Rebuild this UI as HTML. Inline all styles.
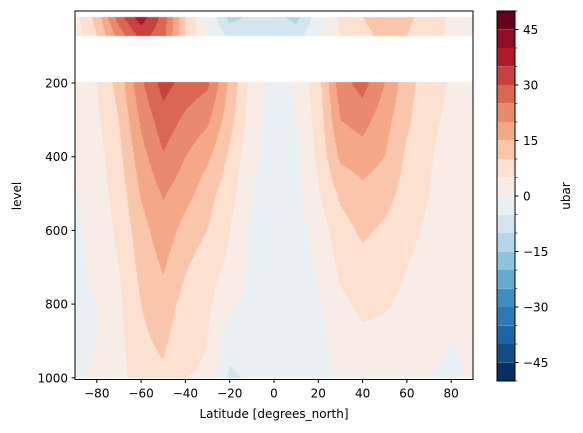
<!DOCTYPE html>
<html><head><meta charset="utf-8"><style>
body{margin:0;background:#fff;width:583px;height:433px;overflow:hidden;font-family:"DejaVu Sans","Liberation Sans",sans-serif;}
svg text{font-family:"DejaVu Sans","Liberation Sans",sans-serif;font-size:12px;fill:#000}
#cv{position:absolute;left:0;top:0}
#ov{position:absolute;left:0;top:0}
</style></head><body>
<canvas id="cv" width="583" height="433"></canvas>
<svg id="ov" width="583" height="433"></svg>
<script>
const lats=[-90,-80,-70,-60,-50,-40,-30,-20,-10,0,10,20,30,40,50,60,70,80,90];
const levels=[20,70,200,300,400,500,600,700,800,900,1000];
const u20 =[3,12,28,38,28,10,-1,-12,-9,-8,-12,-2,6,10,12,11,8,4,2];
const u70 =[2,10,22,32,27,10,0,-6,-6,-5,-7,-1,5,9,11,10,7,4,2];
const u200=[2,5,12,24,32,28,26,14,3,-2,1,8,23,27,20,12,7,4.5,2];
const u300=[1,4,10,21,28,24,21,12,2,-2,0,7,20,22,17,11,6,4,1.5];
const u400=[0.5,3,8.5,18,24.5,20,16,9,1,-2,-1,6,16,17.5,15,9,5.5,3,1.5];
const u500=[-0.5,2.5,7,15.5,20.5,17,12,7,0,-2,-1.5,4.5,11,13.5,12,8,5,2,1.5];
const u600=[-1,2,6,13,18,13,10,5,-1,-2,-2,2,8,11,9,6.5,4,2,1.5];
const u700=[-1,1,5,11.5,15.5,10.5,7,4,-1,-2,-2,0.5,6,8,7,5,3,2,1.5];
const u800=[-1,0,4,10,13,8,6,1,-1.5,-2,-2,-0.5,4,6,5.5,4,2.5,1,1];
const u900=[-1,0,3.5,9,11,6.5,5,-3,-3,-2,-2,-1,2,4,3.5,3,1.5,0,1];
const u1000=[-1,1,3,8,9,5,4.5,-6,-4,-2,-2,-1.5,0.5,2.5,2,2,0,-1,0.5];
const field=[u20,u70,u200,u300,u400,u500,u600,u700,u800,u900,u1000];
const bounds=[-50,-45,-40,-35,-30,-25,-20,-15,-10,-5,0,5,10,15,20,25,30,35,40,45,50];
const colors=['#053061','#134b87','#1f63a8','#2e78b5','#3f8ec0','#65a9cf','#8fc2dd','#b5d6e8','#d3e6f0','#e9f0f4','#f8ece7','#fce0d0','#f9c6ac','#f4a886','#e88a6e','#d96752','#c6413f','#b2182b','#8f0c25','#67001f'];
const xTicks=[-80,-60,-40,-20,0,20,40,60,80];
const yTicks=[200,400,600,800,1000];
const cTicks=[-45,-30,-15,0,15,30,45];

const X0=75,X1=473,Y0=11,Y1=379.5;
const xs=lat=>274+lat*2.215;
const ys=p=>83+(p-200)*0.3685;
const cys=v=>196-v*3.7;

function colorFor(v){let i=Math.floor((v+50)/5);i=Math.max(0,Math.min(19,i));return colors[i];}
function sample(lat,y){
  const lys=levels.map(ys);
  if(y<lys[0]||y>lys[lys.length-1])return null;
  if(y>lys[1]+0.5&&y<lys[2]-0.5)return null;
  let j=0;while(j<levels.length-2&&y>lys[j+1])j++;
  const ty=(y-lys[j])/(lys[j+1]-lys[j]);
  let i=Math.floor((lat+90)/10);i=Math.max(0,Math.min(lats.length-2,i));
  const tx=(lat-lats[i])/10;
  const a=field[j][i],b=field[j][i+1],c=field[j+1][i],d=field[j+1][i+1];
  return (a*(1-tx)+b*tx)*(1-ty)+(c*(1-tx)+d*tx)*ty;
}
const ctx=document.getElementById('cv').getContext('2d');
for(let px=X0;px<X1;px++){
  const lat=(px+0.5-274)/2.215;
  for(let py=Math.floor(Y0);py<Y1;py++){
    const v=sample(lat,py+0.5);
    if(v===null)continue;
    ctx.fillStyle=colorFor(v);ctx.fillRect(px,py,1,1);
  }
}
for(let k=0;k<colors.length;k++){
  const yTop=cys(bounds[k+1]),yBot=cys(bounds[k]);
  ctx.fillStyle=colors[k];ctx.fillRect(497,yTop,18,yBot-yTop);
}
const NS='http://www.w3.org/2000/svg';
const svg=document.getElementById('ov');
function el(t,a,p){const e=document.createElementNS(NS,t);for(const k in a)e.setAttribute(k,a[k]);(p||svg).appendChild(e);return e;}
const frame=el('rect',{x:X0,y:Y0,width:X1-X0,height:Y1-Y0,fill:'none',stroke:'#000','stroke-width':1});


xTicks.forEach(t=>{
  const x=xs(t);
  const l=el('line',{x1:x,x2:x,y1:Y1,y2:Y1+3.5,stroke:'#000'});
  
  
  const tx=el('text',{x:x,y:Y1+18,'text-anchor':'middle'});tx.textContent=(t<0?'\u2212'+(-t):t);
  
  
});
yTicks.forEach(t=>{
  const y=ys(t);
  const l=el('line',{x1:X0-3.5,x2:X0,y1:y,y2:y,stroke:'#000'});
  
  
  const tx=el('text',{x:X0-7,y:y+4.5,'text-anchor':'end'});tx.textContent=t;
  
  
});
const cb=el('rect',{x:497,y:cys(50),width:18,height:cys(-50)-cys(50),fill:'none',stroke:'#000'});


bounds.forEach(b=>{
  const y=cys(b);
  const l=el('line',{x1:515,x2:517.5,y1:y,y2:y,stroke:'#000','stroke-width':0.6});
  
  
});
cTicks.forEach(t=>{
  const y=cys(t);
  const l=el('line',{x1:515,x2:518.5,y1:y,y2:y,stroke:'#000'});
  
  
  const tx=el('text',{x:523,y:y+4.5});tx.textContent=(t<0?'\u2212'+(-t):t);
  
  
});
</script>
<svg width="583" height="433" style="position:absolute;left:0;top:0">
<text x="274" y="418" text-anchor="middle">Latitude [degrees_north]</text>
<text x="0" y="0" text-anchor="middle" transform="translate(21,196) rotate(-90)">level</text>
<text x="0" y="0" text-anchor="middle" transform="translate(570,196) rotate(-90)">ubar</text>
</svg>
</body></html>
